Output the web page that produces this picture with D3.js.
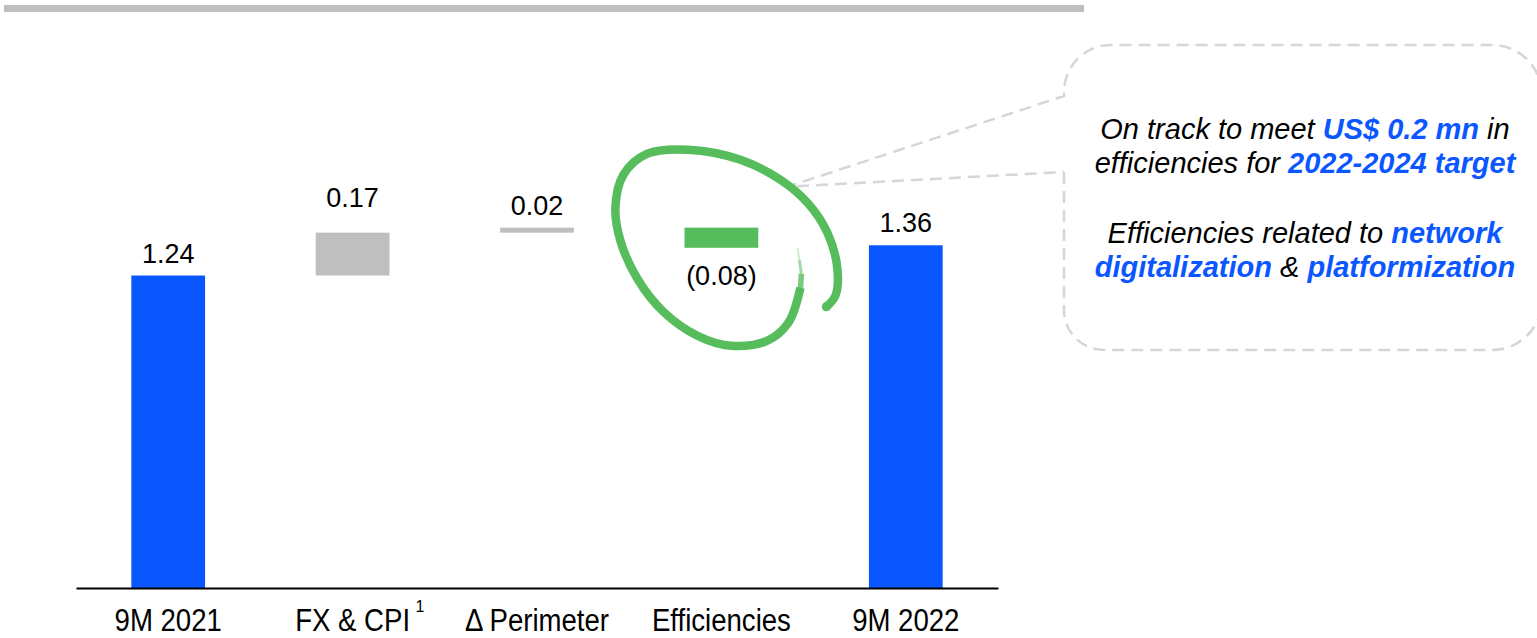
<!DOCTYPE html>
<html>
<head>
<meta charset="utf-8">
<script src="https://cdn.jsdelivr.net/npm/d3@7"></script>
<style>
  html, body { margin: 0; padding: 0; background: #ffffff; }
  svg { display: block; }
  text { font-family: "Liberation Sans", Arial, sans-serif; }
</style>
</head>
<body>
<svg id="chart" width="1537" height="638"></svg>
<script>
// Bridge of 9M 2021 to 9M 2022 (US$ mn)
const categories = ["9M 2021", "FX & CPI", "\u0394 Perimeter", "Efficiencies", "9M 2022"];
const values = [1.24, 0.17, 0.02, -0.08, 1.36];
const kinds = ["total", "delta", "delta", "delta", "total"];
const valueLabels = ["1.24", "0.17", "0.02", "(0.08)", "1.36"];
const footnotes = ["", "1", "", "", ""];

// Callout copy: each line is a list of [text, emphasised]
const calloutLines = [
  [["On track to meet ", false], ["US$ 0.2 mn", true], [" in", false]],
  [["efficiencies for ", false], ["2022-2024 target", true]],
  [],
  [["Efficiencies related to ", false], ["network", true]],
  [["digitalization", true], [" & ", false], ["platformization", true]]
];

const BLUE = "#0b57ff";
const GREY = "#bfbfbf";
const GREEN = "#57bd5c";

const svg = d3.select("#chart");

// Header rule
svg.append("rect")
  .attr("x", 4).attr("y", 5).attr("width", 1080).attr("height", 7)
  .attr("fill", GREY);

const x = d3.scaleBand()
  .domain(categories)
  .range([76, 998])
  .paddingInner(0.6)
  .paddingOuter(0.3);

const y = d3.scaleLinear().domain([0, 2]).range([588, 84]);

// Waterfall segments
let running = 0;
const bars = categories.map((c, i) => {
  let lo, hi;
  if (kinds[i] === "total") {
    lo = 0; hi = values[i]; running = values[i];
  } else {
    const next = running + values[i];
    lo = Math.min(running, next); hi = Math.max(running, next);
    running = next;
  }
  const fill = kinds[i] === "total" ? BLUE : (values[i] >= 0 ? GREY : GREEN);
  return { c, i, lo, hi, fill, v: values[i], label: valueLabels[i] };
});

svg.append("g").selectAll("rect")
  .data(bars)
  .join("rect")
  .attr("x", d => x(d.c))
  .attr("width", x.bandwidth())
  .attr("y", d => y(d.hi))
  .attr("height", d => y(d.lo) - y(d.hi))
  .attr("fill", d => d.fill);

// Annotation: hand-drawn loop around the efficiencies step
const eff = bars[3];
const cx = x(eff.c) + x.bandwidth() / 2;
const cy = (y(eff.hi) + y(eff.lo)) / 2;
const loop = [[79,50],[67,85],[46,103],[9,108],[-24,98],[-58,74],[-84,41],[-101,3],[-106,-30],
  [-98,-63],[-74,-84],[-34,-88],[19,-78],[59,-58],[87,-34],[106,-5],[116,31],[114,58],[105,69]];
const brush = d3.line()
  .x(p => cx + p[0]).y(p => cy + p[1])
  .curve(d3.curveCatmullRom.alpha(0.5));

// Callout bubble (drawn first so the loop sits over its pointer)
const bx0 = 1064, by0 = 45, bx1 = 1542, by1 = 350;
const tip = [cx + 66, cy - 51];
const bubble = d3.path();
bubble.moveTo(bx0, 172);
bubble.arcTo(bx0, by1, bx0 + 40, by1, 40);
bubble.arcTo(bx1, by1, bx1, by1 - 50, 50);
bubble.arcTo(bx1, by0, bx1 - 50, by0, 50);
bubble.arcTo(bx0, by0, bx0, by0 + 50, 47);
bubble.lineTo(bx0, 96);
bubble.lineTo(tip[0], tip[1]);
bubble.lineTo(bx0, 172);
svg.append("path")
  .attr("d", bubble.toString())
  .attr("fill", "none")
  .attr("stroke", "#d6d6d6")
  .attr("stroke-width", 2.5)
  .attr("stroke-dasharray", "12 7");

// Tapering dry-brush start of the loop
const taper = [
  { pts: [[76,10],[78,22]], w: 1.5, o: 0.35 },
  { pts: [[78,22],[80,36]], w: 3, o: 0.55 },
  { pts: [[80,36],[79,52]], w: 5.5, o: 0.8 }
];
taper.forEach(s => {
  svg.append("path")
    .attr("d", brush(s.pts))
    .attr("fill", "none")
    .attr("stroke", GREEN)
    .attr("stroke-opacity", s.o)
    .attr("stroke-width", s.w)
    .attr("stroke-linecap", "butt");
});

svg.append("path")
  .attr("d", brush(loop))
  .attr("fill", "none")
  .attr("stroke", GREEN)
  .attr("stroke-width", 8.5)
  .attr("stroke-linecap", "butt")
  .attr("stroke-linejoin", "round");
// rounded finishing end
svg.append("circle")
  .attr("cx", cx + 105).attr("cy", cy + 69).attr("r", 4.6)
  .attr("fill", GREEN);

// Value labels
svg.append("g").selectAll("text")
  .data(bars)
  .join("text")
  .attr("x", d => x(d.c) + x.bandwidth() / 2)
  .attr("y", d => d.v < 0 ? y(d.lo) + 37 : y(d.hi) - (d.i === 1 ? 26 : 13))
  .attr("text-anchor", "middle")
  .attr("font-size", 27)
  .attr("fill", "#000")
  .text(d => d.label);

// Category axis
const axis = svg.append("g")
  .attr("transform", `translate(0,${y(0)})`)
  .call(d3.axisBottom(x).tickSize(0).tickSizeOuter(0).tickFormat(() => ""));
axis.select(".domain").attr("stroke", "#000").attr("stroke-width", 2);

const catG = svg.append("g");
categories.forEach((c, i) => {
  const t = catG.append("text")
    .attr("transform", `translate(${x(c) + x.bandwidth() / 2},631) scale(0.89,1)`)
    .attr("text-anchor", "middle")
    .attr("font-size", 31)
    .attr("fill", "#000")
    .text(c);
  if (footnotes[i]) {
    const w = t.node().getComputedTextLength() * 0.89;
    catG.append("text")
      .attr("x", x(c) + x.bandwidth() / 2 + w / 2 + 10)
      .attr("y", 612)
      .attr("text-anchor", "middle")
      .attr("font-size", 16)
      .attr("fill", "#000")
      .text(footnotes[i]);
  }
});

// Callout text
const baselines = [139, 173, 208, 243, 277];
calloutLines.forEach((line, li) => {
  if (!line.length) return;
  const t = svg.append("text")
    .attr("x", 1305)
    .attr("y", baselines[li])
    .attr("text-anchor", "middle")
    .attr("font-size", 29)
    .attr("font-style", "italic");
  line.forEach(([s, em]) => {
    t.append("tspan")
      .attr("font-weight", em ? "bold" : "normal")
      .attr("fill", em ? BLUE : "#000")
      .text(s);
  });
});
</script>
</body>
</html>
